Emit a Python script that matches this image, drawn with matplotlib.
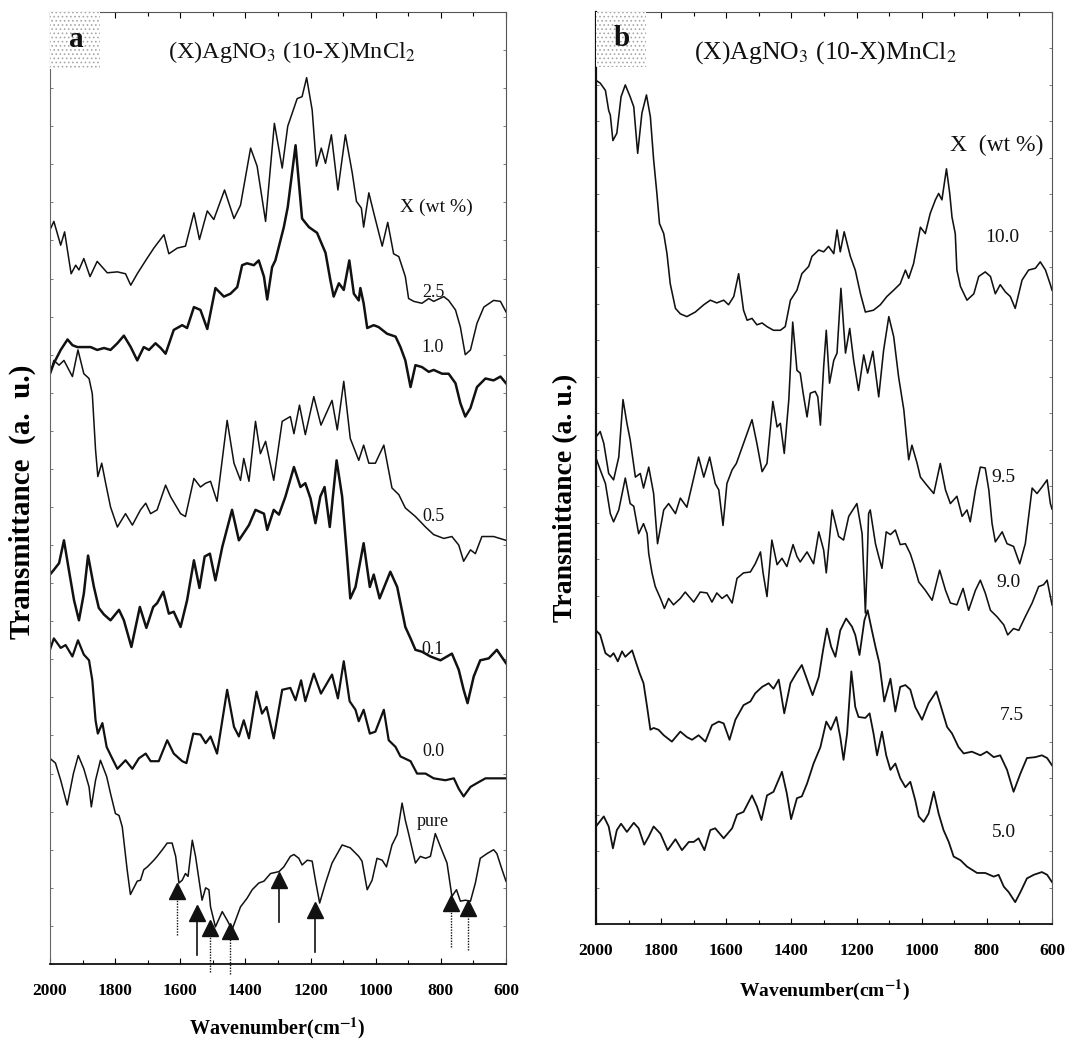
import matplotlib
matplotlib.use("Agg")
import matplotlib.pyplot as plt
from matplotlib.patches import Rectangle
from matplotlib.ticker import MultipleLocator

plt.rcParams["font.family"] = ["Liberation Serif", "DejaVu Serif"]
plt.rcParams["mathtext.fontset"] = "stix"
plt.rcParams["hatch.linewidth"] = 0.7

# ---- panel a: (X)AgNO3 (10-X)MnCl2, low X ----
wn_25 = [2000, 1988, 1967, 1955, 1935, 1921, 1911, 1896, 1877, 1855, 1824, 1793, 1768, 1752, 1732,
         1706, 1681, 1650, 1635, 1609, 1584, 1558, 1541, 1517, 1497, 1464, 1435, 1415, 1384, 1364,
         1338, 1311, 1287, 1270, 1241, 1226, 1212, 1195, 1182, 1167, 1154, 1136, 1116, 1093, 1072,
         1059, 1044, 1037, 1021, 1006, 980, 963, 945, 929, 909, 899, 883, 858, 837, 822, 791, 776,
         755, 740, 725, 709, 689, 668, 638, 617, 600]
t_25 = [77.1, 78.0, 75.5, 76.9, 72.5, 73.4, 72.9, 74.1, 72.2, 73.8, 72.6, 72.7, 72.5, 71.3, 72.5,
        73.9, 75.2, 76.6, 74.6, 75.2, 75.4, 78.9, 76.1, 79.1, 78.2, 81.3, 78.3, 79.7, 85.7, 83.8,
        78.0, 88.3, 83.6, 88.0, 90.9, 91.1, 93.1, 89.7, 83.8, 85.7, 84.1, 87.1, 81.3, 87.1, 83.1,
        80.1, 79.4, 77.4, 81.0, 78.9, 75.4, 77.9, 74.6, 74.3, 72.2, 69.9, 69.6, 69.4, 69.9, 69.6,
        70.1, 69.7, 68.7, 66.9, 64.0, 64.5, 67.3, 69.0, 69.7, 69.6, 68.5]

wn_10 = [2000, 1988, 1967, 1946, 1931, 1916, 1896, 1875, 1855, 1834, 1814, 1793, 1773, 1752, 1732,
         1712, 1696, 1676, 1660, 1645, 1620, 1594, 1579, 1558, 1538, 1517, 1492, 1466, 1446, 1425,
         1410, 1395, 1374, 1359, 1343, 1333, 1318, 1308, 1282, 1270, 1246, 1226, 1205, 1180, 1154,
         1139, 1129, 1113, 1098, 1081, 1067, 1052, 1047, 1037, 1026, 1006, 991, 965, 939, 924, 909,
         893, 878, 858, 837, 822, 796, 776, 755, 740, 725, 709, 689, 663, 638, 617, 600]
t_10 = [62.0, 63.1, 64.5, 65.6, 65.0, 64.8, 64.8, 64.8, 64.5, 64.7, 64.5, 65.2, 66.0, 64.8, 63.4,
        64.8, 64.5, 65.2, 64.7, 64.1, 66.6, 67.1, 66.8, 69.0, 68.7, 66.7, 71.0, 70.1, 70.4, 71.1,
        73.4, 73.6, 73.4, 73.9, 72.2, 69.8, 73.2, 73.9, 77.4, 79.5, 86.0, 78.3, 77.4, 76.8, 74.7,
        71.8, 70.1, 71.5, 70.8, 73.9, 70.4, 69.7, 71.0, 69.4, 66.8, 67.1, 66.9, 66.2, 65.9, 64.8,
        63.4, 60.6, 62.9, 62.7, 62.2, 62.4, 62.0, 62.0, 61.0, 58.9, 57.5, 58.4, 60.6, 61.5, 61.3,
        61.7, 61.0]

wn_05 = [2000, 1988, 1972, 1957, 1931, 1914, 1896, 1880, 1870, 1860, 1853, 1841, 1829, 1814, 1793,
         1768, 1747, 1722, 1706, 1691, 1671, 1645, 1630, 1599, 1584, 1558, 1538, 1522, 1507, 1487,
         1456, 1435, 1415, 1405, 1389, 1369, 1354, 1338, 1313, 1287, 1262, 1251, 1234, 1216, 1190,
         1168, 1134, 1118, 1098, 1078, 1052, 1037, 1021, 1001, 975, 950, 929, 909, 878, 847, 822,
         791, 766, 745, 730, 709, 694, 674, 638, 600]
t_05 = [61.9, 63.4, 62.9, 63.4, 61.7, 64.5, 62.0, 61.5, 59.9, 54.0, 51.2, 52.6, 50.5, 48.0, 45.9,
        47.3, 46.1, 47.7, 48.4, 47.3, 47.7, 50.3, 49.1, 47.3, 47.0, 51.0, 50.1, 50.5, 50.7, 48.6,
        57.1, 52.6, 50.8, 53.1, 50.7, 57.0, 53.6, 54.9, 50.8, 57.0, 57.5, 55.7, 58.7, 55.6, 59.6,
        56.6, 59.2, 56.1, 61.2, 55.2, 52.9, 54.5, 52.6, 52.6, 54.5, 50.0, 49.3, 47.9, 47.0, 45.9,
        45.1, 44.7, 44.9, 44.0, 42.3, 43.5, 43.1, 44.9, 44.9, 44.5]

wn_01 = [2000, 1988, 1972, 1957, 1942, 1926, 1911, 1896, 1883, 1865, 1850, 1834, 1814, 1788, 1773,
         1750, 1724, 1704, 1683, 1671, 1652, 1635, 1620, 1599, 1579, 1558, 1541, 1525, 1509, 1492,
         1471, 1441, 1420, 1389, 1369, 1343, 1333, 1313, 1297, 1277, 1251, 1231, 1216, 1200, 1185,
         1170, 1157, 1141, 1120, 1103, 1088, 1078, 1062, 1037, 1018, 1006, 988, 955, 934, 909, 893,
         878, 858, 832, 801, 766, 745, 730, 718, 699, 679, 653, 628, 600]
t_01 = [40.9, 41.4, 42.1, 44.5, 41.4, 38.2, 36.1, 38.9, 42.9, 39.6, 37.4, 36.7, 36.1, 37.2, 36.1,
        33.3, 37.5, 35.3, 37.5, 37.9, 39.1, 36.8, 37.0, 35.4, 38.2, 42.4, 39.5, 42.8, 43.1, 40.3,
        43.8, 47.7, 44.5, 46.1, 47.7, 47.3, 45.6, 47.7, 47.2, 49.1, 52.2, 50.1, 50.5, 48.9, 46.3,
        49.1, 50.1, 45.9, 52.9, 49.1, 42.8, 38.4, 39.6, 44.2, 39.6, 40.9, 38.4, 41.2, 39.6, 35.4,
        34.2, 33.0, 32.8, 32.3, 31.9, 32.6, 30.9, 28.8, 27.4, 30.2, 31.9, 32.1, 33.0, 31.6]

wn_00 = [2000, 1988, 1967, 1952, 1931, 1914, 1896, 1880, 1870, 1860, 1853, 1839, 1826, 1809, 1793,
         1768, 1747, 1727, 1706, 1691, 1666, 1640, 1620, 1594, 1581, 1560, 1538, 1522, 1507, 1487,
         1456, 1435, 1420, 1405, 1389, 1366, 1349, 1335, 1313, 1287, 1262, 1246, 1229, 1216, 1190,
         1168, 1134, 1116, 1098, 1080, 1062, 1052, 1037, 1018, 1001, 975, 960, 939, 924, 893, 873,
         847, 822, 786, 760, 745, 730, 709, 689, 663, 628, 600]
t_00 = [33.0, 34.2, 33.2, 33.5, 32.3, 34.0, 32.5, 31.9, 29.8, 25.6, 24.2, 25.3, 22.8, 21.6, 20.5,
        21.4, 20.5, 21.6, 22.1, 21.3, 21.3, 23.5, 22.1, 21.3, 21.1, 24.2, 24.1, 23.2, 23.9, 22.1,
        28.8, 24.9, 23.9, 25.6, 23.7, 28.6, 26.3, 27.0, 23.7, 28.8, 29.0, 27.7, 29.8, 27.6, 30.5,
        28.4, 30.4, 27.9, 31.8, 27.6, 26.7, 25.5, 26.7, 24.2, 24.4, 26.7, 23.5, 22.8, 21.8, 21.3,
        20.0, 20.0, 19.5, 19.3, 19.5, 18.4, 17.6, 18.6, 19.0, 19.5, 19.5, 19.5]

wn_pure = [2000, 1983, 1967, 1947, 1928, 1913, 1896, 1880, 1873, 1860, 1845, 1826, 1814, 1799, 1788,
           1778, 1763, 1753, 1732, 1722, 1712, 1701, 1681, 1671, 1655, 1640, 1625, 1614, 1604, 1594,
           1584, 1576, 1563, 1553, 1541, 1533, 1522, 1512, 1507, 1492, 1471, 1456, 1441, 1415, 1395,
           1379, 1359, 1343, 1323, 1297, 1282, 1262, 1251, 1236, 1226, 1210, 1195, 1185, 1172, 1154,
           1134, 1103, 1078, 1052, 1042, 1026, 1011, 996, 980, 967, 950, 934, 919, 909, 899, 878,
           863, 847, 832, 817, 801, 781, 766, 752, 740, 725, 709, 694, 679, 658, 638, 628, 612, 600]
t_pure = [21.6, 21.1, 19.3, 16.7, 20.0, 21.9, 20.5, 18.6, 16.5, 19.3, 21.4, 19.7, 17.9, 15.8, 15.6,
          14.4, 9.9, 7.3, 8.7, 8.8, 9.9, 10.2, 10.9, 11.3, 12.0, 12.7, 12.7, 11.3, 8.5, 8.8,
          9.5, 9.2, 13.0, 11.3, 8.5, 6.7, 8.0, 7.8, 6.0, 3.9, 5.5, 4.6, 3.6, 6.0, 6.9,
          7.8, 8.5, 8.7, 9.5, 9.7, 10.2, 11.3, 11.5, 11.1, 10.4, 10.9, 10.8, 8.8, 6.4, 8.5,
          10.6, 12.5, 12.2, 11.3, 10.8, 7.8, 8.8, 11.1, 10.9, 10.2, 12.5, 13.6, 16.9, 15.1, 13.7, 10.6,
          11.3, 11.1, 11.3, 13.7, 12.3, 10.6, 7.1, 7.8, 6.6, 6.7, 6.6, 8.5, 11.1, 11.6, 12.0, 11.6, 9.9, 8.7]

# marked bands of the pure sample (arrow head tip and tail, solid or dotted shaft)
band_wn = [1611, 1548, 1509, 1446, 1297, 1185, 768, 717]
band_tip = [8.3, 6.0, 4.45, 4.1, 9.5, 6.4, 7.1, 6.55]
band_tail = [3.05, 0.95, -0.8, -1.05, 4.45, 1.3, 1.8, 1.5]
band_solid = [False, True, False, False, True, True, False, False]

# ---- panel b: high X ----
wn_100 = [2000, 1987, 1971, 1961, 1956, 1948, 1936, 1923, 1910, 1895, 1884, 1872, 1859, 1845, 1833,
          1823, 1813, 1805, 1792, 1782, 1772, 1756, 1741, 1721, 1695, 1669, 1649, 1629, 1608, 1593,
          1577, 1562, 1547, 1536, 1521, 1506, 1490, 1475, 1455, 1434, 1419, 1403, 1383, 1368, 1347,
          1337, 1316, 1301, 1286, 1270, 1260, 1250, 1238, 1224, 1219, 1204, 1188, 1173, 1148, 1127,
          1107, 1086, 1066, 1050, 1040, 1025, 1004, 989, 974, 958, 948, 938, 924, 914, 907, 897,
          892, 881, 861, 840, 825, 805, 789, 774, 759, 743, 728, 713, 692, 672, 651, 636, 620, 605, 600]
t_100 = [92.5, 92.2, 91.4, 89.2, 88.7, 85.9, 86.7, 90.7, 92.0, 90.7, 89.6, 84.5, 88.9, 90.9, 88.5,
         83.8, 80.1, 76.8, 75.7, 73.5, 70.2, 67.5, 66.9, 66.6, 67.1, 67.9, 68.4, 68.1, 68.4, 67.9,
         68.8, 71.3, 67.3, 66.2, 66.4, 65.7, 65.9, 65.5, 65.1, 65.1, 65.5, 68.4, 69.5, 71.3, 72.1,
         73.2, 73.9, 73.7, 74.3, 73.5, 76.1, 73.7, 75.9, 73.9, 73.2, 71.7, 69.1, 67.1, 67.3, 67.9,
         68.8, 69.5, 70.2, 71.7, 70.8, 72.4, 76.4, 75.7, 77.9, 79.4, 80.1, 79.4, 82.8, 80.1, 77.5, 75.7,
         71.7, 69.9, 68.4, 69.1, 71.0, 71.5, 71.0, 69.1, 70.1, 69.3, 68.8, 67.5, 70.6, 71.7, 71.9,
         72.6, 71.7, 70.1, 69.5]

wn_95 = [2000, 1987, 1976, 1961, 1946, 1930, 1917, 1905, 1895, 1879, 1864, 1854, 1838, 1823, 1811,
         1792, 1777, 1756, 1741, 1721, 1685, 1669, 1651, 1634, 1623, 1610, 1598, 1582, 1569, 1547,
         1521, 1506, 1490, 1475, 1457, 1444, 1434, 1422, 1408, 1396, 1383, 1373, 1364, 1352, 1342,
         1327, 1319, 1311, 1301, 1293, 1283, 1270, 1260, 1248, 1234, 1221, 1209, 1194, 1178, 1166,
         1150, 1132, 1117, 1101, 1086, 1071, 1055, 1040, 1030, 1014, 1004, 984, 963, 943, 927, 912,
         892, 876, 861, 851, 835, 820, 805, 794, 784, 774, 753, 738, 718, 699, 682, 661, 646, 631,
         615, 605, 600]
t_95 = [53.4, 54.0, 52.7, 49.4, 48.7, 51.2, 57.5, 54.9, 53.1, 49.0, 49.4, 47.8, 50.1, 47.2, 41.7,
        45.4, 46.1, 45.0, 46.7, 45.7, 51.2, 49.0, 51.2, 48.3, 47.6, 43.7, 48.3, 49.8, 50.5, 52.7,
        55.3, 52.7, 49.6, 50.5, 57.3, 54.5, 54.9, 51.6, 57.5, 66.0, 60.7, 60.4, 58.2, 55.6, 58.2,
        58.4, 57.8, 54.7, 61.1, 65.1, 59.3, 61.8, 62.6, 69.7, 62.6, 65.3, 61.8, 58.5, 62.4, 60.4,
        62.8, 57.8, 62.9, 66.6, 64.4, 60.0, 56.4, 50.9, 52.5, 50.5, 49.0, 48.1, 47.2, 50.5, 47.6, 46.1,
        46.9, 44.7, 45.4, 44.1, 47.6, 50.1, 50.0, 47.6, 43.9, 41.9, 43.0, 41.7, 41.4, 39.5, 41.7,
        47.8, 47.2, 47.9, 48.7, 46.1, 45.5]

wn_90 = [2000, 1987, 1971, 1956, 1946, 1930, 1910, 1895, 1884, 1869, 1854, 1843, 1838, 1828, 1818,
         1802, 1790, 1777, 1762, 1741, 1726, 1700, 1680, 1659, 1644, 1629, 1613, 1598, 1582, 1567,
         1547, 1526, 1511, 1495, 1487, 1475, 1460, 1444, 1429, 1414, 1395, 1383, 1373, 1352, 1332,
         1316, 1301, 1293, 1275, 1255, 1240, 1224, 1199, 1183, 1176, 1173, 1168, 1163, 1158, 1142,
         1132, 1122, 1109, 1096, 1081, 1066, 1050, 1035, 1025, 1009, 989, 968, 945, 927, 912, 892,
         873, 856, 835, 820, 805, 789, 769, 748, 736, 718, 702, 682, 661, 641, 626, 615, 600]
t_90 = [51.1, 49.8, 48.3, 45.0, 44.1, 45.4, 48.9, 46.1, 45.8, 42.8, 43.9, 42.8, 40.6, 38.5, 37.0,
        35.7, 34.6, 35.7, 35.0, 35.7, 36.4, 35.3, 36.4, 36.3, 35.3, 36.3, 35.7, 36.1, 35.2, 37.9,
        38.5, 38.6, 39.5, 40.8, 38.5, 35.9, 42.1, 39.4, 40.1, 39.2, 41.6, 40.3, 39.7, 40.8, 39.5,
        43.0, 41.0, 38.5, 45.4, 42.5, 42.1, 44.7, 46.1, 42.8, 37.0, 34.1, 39.0, 45.0, 45.4, 41.7,
        40.3, 39.0, 43.0, 42.7, 43.2, 41.6, 41.7, 40.6, 39.5, 37.5, 36.6, 35.5, 38.8, 36.6, 35.2, 35.0,
        36.8, 34.4, 36.6, 37.7, 36.3, 34.4, 33.7, 32.8, 31.7, 32.4, 32.2, 33.7, 35.2, 37.0, 37.2,
        37.7, 35.0]

wn_75 = [2000, 1987, 1971, 1956, 1946, 1933, 1920, 1910, 1889, 1879, 1866, 1854, 1843, 1833, 1823,
         1808, 1792, 1767, 1741, 1721, 1705, 1685, 1664, 1644, 1623, 1608, 1590, 1572, 1547, 1526,
         1511, 1490, 1470, 1455, 1439, 1422, 1403, 1385, 1368, 1352, 1335, 1316, 1303, 1291, 1278,
         1265, 1250, 1232, 1214, 1204, 1191, 1176, 1166, 1153, 1142, 1130, 1115, 1096, 1081, 1066,
         1050, 1035, 1020, 999, 979, 955, 938, 922, 907, 887, 871, 846, 820, 800, 779, 759, 738, 718,
         697, 677, 651, 631, 615, 600]
t_75 = [32.2, 31.7, 29.7, 29.3, 29.7, 28.8, 29.9, 29.3, 30.0, 28.9, 27.5, 26.4, 23.8, 21.3, 21.5,
        21.3, 20.7, 20.0, 21.1, 20.5, 20.2, 20.7, 20.0, 21.8, 22.2, 22.0, 20.2, 22.4, 24.0, 24.4,
        25.3, 26.0, 26.4, 25.8, 26.8, 23.1, 26.4, 27.5, 28.4, 26.8, 25.1, 27.1, 30.0, 32.4, 30.4,
        29.3, 32.2, 33.5, 32.6, 31.7, 29.5, 33.3, 34.4, 32.2, 30.4, 28.6, 24.4, 26.9, 23.3, 26.0,
        26.2, 25.7, 23.8, 22.4, 24.2, 25.5, 23.5, 21.6, 20.9, 19.4, 18.7, 18.9, 18.5, 18.9, 18.3, 18.5,
        16.9, 14.5, 16.5, 18.2, 18.3, 18.5, 18.2, 17.4]

wn_50 = [2000, 1976, 1961, 1948, 1936, 1923, 1905, 1884, 1869, 1852, 1838, 1823, 1802, 1780, 1756,
         1736, 1715, 1700, 1685, 1667, 1649, 1634, 1608, 1582, 1567, 1547, 1521, 1506, 1492, 1475,
         1455, 1429, 1414, 1401, 1383, 1368, 1352, 1332, 1311, 1293, 1279, 1262, 1250, 1240, 1229,
         1216, 1204, 1194, 1173, 1160, 1148, 1137, 1122, 1109, 1096, 1081, 1066, 1050, 1035, 1020,
         1009, 994, 979, 963, 948, 933, 917, 902, 881, 861, 830, 805, 779, 764, 748, 733, 713, 697,
         677, 656, 631, 615, 600]
t_50 = [10.7, 11.8, 10.7, 8.3, 10.3, 11.0, 10.1, 11.1, 10.5, 8.7, 9.6, 10.7, 9.9, 8.1, 9.3,
        8.1, 9.0, 9.0, 9.4, 8.1, 10.3, 10.5, 9.4, 10.5, 12.0, 12.3, 14.1, 12.9, 11.4, 14.1,
        14.5, 16.7, 14.3, 11.5, 13.8, 14.0, 15.4, 17.6, 19.4, 22.2, 21.3, 22.7, 20.5, 18.0, 20.9,
        27.7, 23.8, 22.7, 22.6, 23.1, 20.9, 18.5, 21.1, 18.5, 16.9, 17.6, 16.0, 15.0, 15.6, 13.6,
        11.8, 11.2, 12.1, 14.5, 12.1, 10.3, 9.0, 7.4, 7.0, 6.3, 5.6, 5.6, 5.2, 5.4, 4.1, 3.5, 2.4, 3.5,
        5.0, 5.4, 5.7, 5.4, 4.6]

ink = "#111111"

fig = plt.figure(figsize=(10.65, 10.4), dpi=100)
ax_a = fig.add_axes([0.0469, 0.0731, 0.4282, 0.9154])
ax_b = fig.add_axes([0.5596, 0.1115, 0.4282, 0.8770])

# panel a spectra
ax_a.plot(wn_25, t_25, color=ink, lw=1.1)
ax_a.plot(wn_10, t_10, color=ink, lw=1.8)
ax_a.plot(wn_05, t_05, color=ink, lw=1.1)
ax_a.plot(wn_01, t_01, color=ink, lw=1.8)
ax_a.plot(wn_00, t_00, color=ink, lw=1.6)
ax_a.plot(wn_pure, t_pure, color=ink, lw=1.1)

for w, tip, tail, solid in zip(band_wn, band_tip, band_tail, band_solid):
    ax_a.plot([w, w], [tail, tip - 1.0], color=ink, lw=1.2 if solid else 1.0,
              ls="-" if solid else (0, (1, 1)), clip_on=False)
    ax_a.plot(w, tip - 0.68, marker="^", ms=11, color=ink, mec=ink)

labels_a = [("2.5", 70.5), ("1.0", 64.8), ("0.5", 47.0), ("0.1", 33.0), ("0.0", 22.3), ("pure", 15.0)]
for txt, y in labels_a:
    ax_a.text(824, y, txt, fontsize=13, ha="center", va="center", color=ink)
ax_a.text(815, 79.5, "X (wt %)", fontsize=14, ha="center", va="center", color=ink)
ax_a.text(0.531, 0.958, "(X)AgNO$_3$ (10-X)MnCl$_2$", transform=ax_a.transAxes,
          fontsize=17.5, ha="center", va="center", color=ink)
ax_a.set_xlabel("Wavenumber(cm$^{\\mathbf{-1}}$)", fontsize=14.5, fontweight="bold")
ax_a.xaxis.set_label_coords(0.498, -0.0545)
ax_a.set_ylabel("Transmittance  (a.  u.)", fontsize=21, fontweight="bold")
ax_a.yaxis.set_label_coords(-0.030, 0.485)
ax_a.set_ylim(0, 100)

# panel b spectra
ax_b.plot(wn_100, t_100, color=ink, lw=1.15)
ax_b.plot(wn_95, t_95, color=ink, lw=1.15)
ax_b.plot(wn_90, t_90, color=ink, lw=1.15)
ax_b.plot(wn_75, t_75, color=ink, lw=1.3)
ax_b.plot(wn_50, t_50, color=ink, lw=1.3)

labels_b = [("10.0", 754, 75.3), ("9.5", 750, 49.0), ("9.0", 735, 37.5), ("7.5", 723, 22.9),
            ("5.0", 747, 10.0)]
for txt, x, y in labels_b:
    ax_b.text(x, y, txt, fontsize=14, ha="center", va="center", color=ink)
ax_b.text(769, 85.4, "X  (wt %)", fontsize=17, ha="center", va="center", color=ink)
ax_b.text(0.502, 0.955, "(X)AgNO$_3$ (10-X)MnCl$_2$", transform=ax_b.transAxes,
          fontsize=18.5, ha="center", va="center", color=ink)
ax_b.set_xlabel("Wavenumber(cm$^{\\mathbf{-1}}$)", fontsize=14, fontweight="bold")
ax_b.xaxis.set_label_coords(0.502, -0.059)
ax_b.set_ylabel("Transmittance (a. u.)", fontsize=20, fontweight="bold")
ax_b.yaxis.set_label_coords(-0.040, 0.467)
ax_b.set_ylim(0, 100)

for ax, tag in [(ax_a, "a"), (ax_b, "b")]:
    ax.set_xlim(2000, 600)
    ax.xaxis.set_major_locator(MultipleLocator(200))
    ax.xaxis.set_minor_locator(MultipleLocator(100))
    ax.yaxis.set_minor_locator(MultipleLocator(4))
    ax.set_yticks([])
    ax.tick_params(axis="x", which="both", direction="in", top=True, labelsize=12.5,
                   pad=14, width=0.8)
    ax.tick_params(axis="x", which="major", length=4)
    ax.tick_params(axis="x", which="minor", length=3)
    ax.tick_params(axis="y", which="minor", direction="in", left=True, right=True,
                   length=2.5, width=0.6, color="#666666")
    for lab in ax.get_xticklabels():
        lab.set_fontweight("bold")
    for side in ["top", "right"]:
        ax.spines[side].set_linewidth(0.8)
        ax.spines[side].set_color("#555555")
    ax.spines["bottom"].set_linewidth(1.3)
    ax.spines["bottom"].set_color(ink)
    ax.add_patch(Rectangle((0, 0.94), 0.11, 0.06, transform=ax.transAxes, facecolor="white",
                           edgecolor="#a8a8a8", hatch="....", lw=0, zorder=3))
    ax.text(0.057, 0.971, tag, transform=ax.transAxes, fontsize=21, fontweight="bold",
            ha="center", va="center", color=ink, zorder=4)

ax_a.spines["left"].set_linewidth(0.8)
ax_a.spines["left"].set_color("#666666")
ax_b.spines["left"].set_linewidth(1.6)
ax_b.spines["left"].set_color(ink)

fig.savefig("out.png", dpi=100)
